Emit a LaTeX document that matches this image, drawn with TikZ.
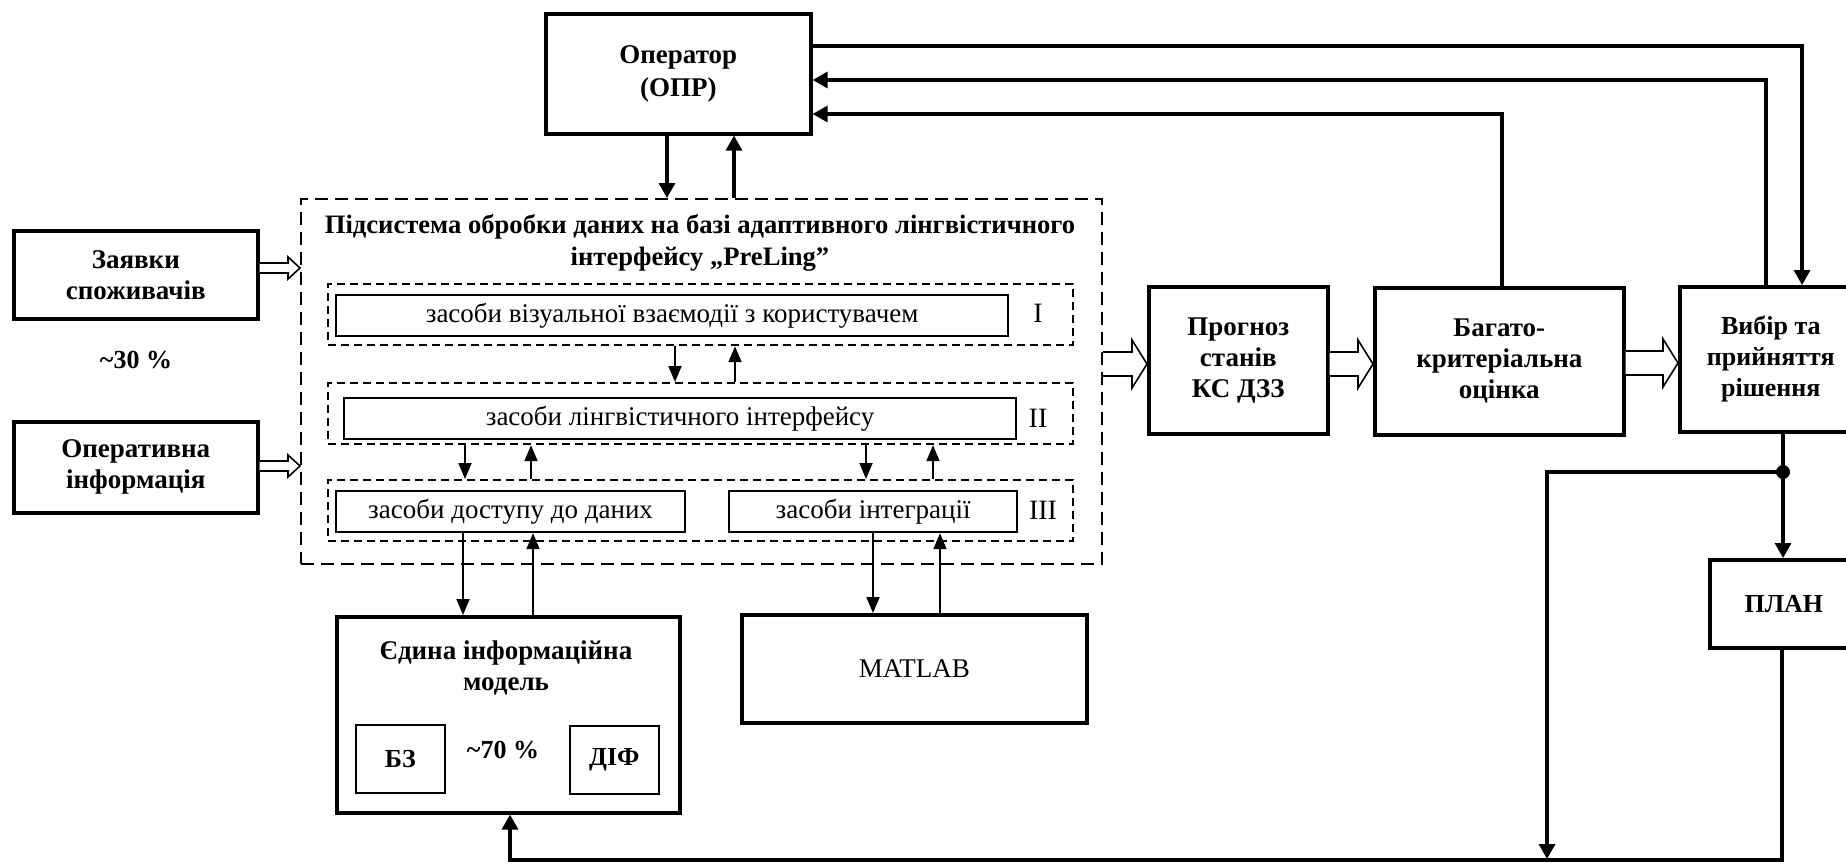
\documentclass[tikz,border=0pt]{standalone}
\usepackage{fontspec}
\setmainfont{Liberation Serif}
\usetikzlibrary{arrows.meta,calc}
\newcommand{\hollowarr}[5]{%
  \draw[hollow] ($(#1)+(0,#3)$) -- ($(#2)+(-#5,#3)$) -- ($(#2)+(-#5,#4)$) -- (#2)
    -- ($(#2)+(-#5,-#4)$) -- ($(#2)+(-#5,-#3)$) -- ($(#1)+(0,-#3)$);}
\begin{document}
\begin{tikzpicture}[x=0.5pt,y=-0.5pt,
  mainbox/.style={draw,line width=1.8pt,align=center,inner sep=0pt,anchor=north west,
    font=\bfseries\fontsize{13.5pt}{15.5pt}\selectfont},
  innerbox/.style={draw,line width=1.1pt,inner sep=0pt,anchor=north west,
    font=\fontsize{13.5pt}{15pt}\selectfont},
  smallbox/.style={draw,line width=0.8pt,inner sep=0pt,anchor=north west,
    font=\bfseries\fontsize{13pt}{15pt}\selectfont},
  outerdash/.style={draw,line width=1pt,dash pattern=on 6.5pt off 3.5pt,inner sep=0pt,anchor=north west},
  lvldash/.style={draw,line width=1.1pt,dash pattern=on 4pt off 2.5pt,inner sep=0pt,anchor=north west},
  plain/.style={align=center,inner sep=0pt,font=\bfseries\fontsize{13pt}{15.5pt}\selectfont},
  roman/.style={inner sep=0pt,font=\fontsize{14pt}{16pt}\selectfont},
  thickarr/.style={line width=1.6pt,-{Triangle[length=7.5pt,width=8pt]}},
  thinarr/.style={line width=0.9pt,-{Triangle[length=8pt,width=6.5pt]}},
  hollow/.style={draw,line width=0.8pt,fill=white},
  dotstyle/.style={circle,fill,inner sep=0pt,minimum size=7pt}
]
\useasboundingbox (0,0) rectangle (1846,863);

% main boxes
\node[mainbox,minimum width=132.5pt,minimum height=60pt,font=\bfseries\fontsize{13.5pt}{16.5pt}\selectfont] (op) at (544,12) {Оператор\\(ОПР)};
\node[mainbox,minimum width=122pt,minimum height=44pt] (zay) at (12,229) {Заявки\\споживачів};
\node[mainbox,minimum width=122pt,minimum height=45.5pt] (oper) at (12,420) {Оперативна\\інформація};
\node[plain] (p30) at (136,360) {\textasciitilde30 \%};

% subsystem
\node[outerdash,minimum width=400.5pt,minimum height=182.5pt] (sub) at (300,198) {};
\node[plain,font=\bfseries\fontsize{13.3pt}{16pt}\selectfont] (title) at (700,243) {Підсистема обробки даних на базі адаптивного лінгвістичного\\інтерфейсу „PreLing”};
\node[lvldash,minimum width=372.5pt,minimum height=30.5pt] (L1) at (327,283) {};
\node[lvldash,minimum width=372.5pt,minimum height=30.5pt] (L2) at (327,382) {};
\node[lvldash,minimum width=372.5pt,minimum height=30.5pt] (L3) at (327,479) {};
\node[innerbox,minimum width=336pt,minimum height=20.5pt] (b1) at (335,294) {засоби візуальної взаємодії з користувачем};
\node[innerbox,minimum width=336pt,minimum height=20.5pt] (b2) at (343,397) {засоби лінгвістичного інтерфейсу};
\node[innerbox,minimum width=174.5pt,minimum height=20.5pt] (b3a) at (335,490) {засоби доступу до даних};
\node[innerbox,minimum width=144pt,minimum height=20.5pt] (b3b) at (728,490) {засоби інтеграції};
\node[roman] (r1) at (1038,313) {I};
\node[roman] (r2) at (1038,418) {II};
\node[roman] (r3) at (1043,510) {III};

% lower boxes
\node[mainbox,minimum width=171.5pt,minimum height=98pt] (yed) at (335,615) {};
\node[plain,font=\bfseries\fontsize{13.5pt}{15.5pt}\selectfont] (yedt) at (506,668) {Єдина інформаційна\\модель};
\node[smallbox,minimum width=44.5pt,minimum height=34pt] (bz) at (355,724) {БЗ};
\node[smallbox,minimum width=44.5pt,minimum height=34pt] (dif) at (569,725) {ДІФ};
\node[plain] (p70) at (503,750) {\textasciitilde70 \%};
\node[mainbox,minimum width=172.5pt,minimum height=54pt,font=\fontsize{13.5pt}{15pt}\selectfont] (mat) at (740,613) {MATLAB};

% right chain
\node[mainbox,minimum width=89.5pt,minimum height=73.5pt] (prog) at (1147,285) {Прогноз\\станів\\КС ДЗЗ};
\node[mainbox,minimum width=124.5pt,minimum height=73.5pt] (bah) at (1373,286) {Багато-\\критеріальна\\оцінка};
\node[mainbox,minimum width=91pt,minimum height=72.5pt,font=\bfseries\fontsize{13pt}{15.5pt}\selectfont] (vyb) at (1678,285) {Вибір та\\прийняття\\рішення};
\node[mainbox,minimum width=74pt,minimum height=44pt,font=\bfseries\fontsize{13pt}{15.5pt}\selectfont] (plan) at (1708,558) {ПЛАН};

% operator <-> subsystem
\draw[thickarr] (667,0 |- op.south) -- (667,0 |- sub.north);
\draw[thickarr] (734,0 |- sub.north) -- (734,0 |- op.south);

% feedback lines
\draw[thickarr] (op.east |- 0,46) -- (1802,46) -- (1802,0 |- vyb.north);
\draw[thickarr] (1766,0 |- vyb.north) -- (1766,80) -- (op.east |- 0,80);
\draw[thickarr] (1502,0 |- bah.north) -- (1502,114) -- (op.east |- 0,114);

% inner arrows
\draw[thinarr] (675,0 |- L1.south) -- (675,0 |- L2.north);
\draw[thinarr] (735,0 |- L2.north) -- (735,0 |- L1.south);
\draw[thinarr] (465,0 |- L2.south) -- (465,0 |- L3.north);
\draw[thinarr] (531,0 |- L3.north) -- (531,0 |- L2.south);
\draw[thinarr] (866,0 |- L2.south) -- (866,0 |- L3.north);
\draw[thinarr] (933,0 |- L3.north) -- (933,0 |- L2.south);
\draw[thinarr] (463,0 |- b3a.south) -- (463,0 |- yed.north);
\draw[thinarr] (533,0 |- yed.north) -- (533,0 |- b3a.south);
\draw[thinarr] (873,0 |- b3b.south) -- (873,0 |- mat.north);
\draw[thinarr] (940,0 |- mat.north) -- (940,0 |- b3b.south);

% hollow arrows
\coordinate (h1s) at (zay.east |- 0,268);  \coordinate (h1e) at (sub.west |- 0,268);
\coordinate (h2s) at (oper.east |- 0,466); \coordinate (h2e) at (sub.west |- 0,466);
\coordinate (h3s) at (sub.east |- 0,364);  \coordinate (h3e) at (prog.west |- 0,364);
\coordinate (h4s) at (prog.east |- 0,364); \coordinate (h4e) at (bah.west |- 0,364);
\coordinate (h5s) at (bah.east |- 0,363);  \coordinate (h5e) at (vyb.west |- 0,363);
\hollowarr{h1s}{h1e}{5}{11}{12}
\hollowarr{h2s}{h2e}{5}{11}{12}
\hollowarr{h3s}{h3e}{12}{24}{15}
\hollowarr{h4s}{h4e}{12}{24}{15}
\hollowarr{h5s}{h5e}{12}{24}{15}

% decision -> plan and loop back
\node[dotstyle] (dot) at (1783,472) {};
\draw[thickarr] (1783,0 |- vyb.south) -- (1783,0 |- plan.north);
\draw[thickarr] (dot.center) -- (1547,472) -- (1547,859);
\draw[thickarr] (1782,0 |- plan.south) -- (1782,860) -- (510,860) -- (510,0 |- yed.south);
\end{tikzpicture}
\end{document}
